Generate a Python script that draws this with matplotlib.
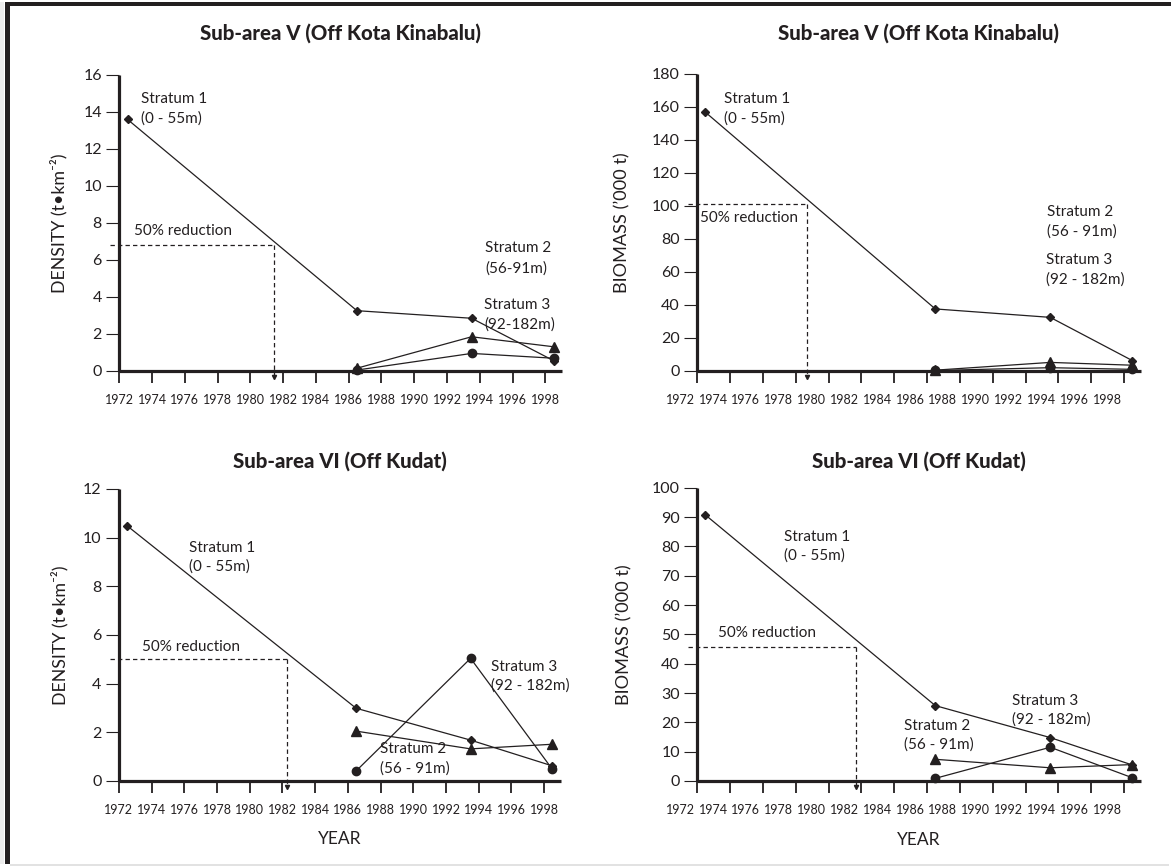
import matplotlib
matplotlib.use("Agg")
import matplotlib.pyplot as plt
import matplotlib.transforms as mtransforms
from matplotlib.patches import Rectangle

plt.rcParams['font.family'] = ['Lato', 'DejaVu Sans']

INK = '#231f20'

# survey years
YEARS_S1 = [1972.5, 1986.5, 1993.5, 1998.5]
YEARS_S23 = [1986.5, 1993.5, 1998.5]

# Sub-area V density (t/km2)
v_density_s1 = [13.6, 3.26, 2.85, 0.56]
v_density_s2 = [0.15, 1.85, 1.31]
v_density_s3 = [0.05, 0.95, 0.69]

# Sub-area V biomass ('000 t)
v_biomass_s1 = [156.8, 37.6, 32.5, 6.3]
v_biomass_s2 = [0.5, 5.2, 3.5]
v_biomass_s3 = [0.3, 2.0, 1.0]

# Sub-area VI density (t/km2)
vi_density_s1 = [10.49, 2.99, 1.68, 0.62]
vi_density_s2 = [2.05, 1.32, 1.51]
vi_density_s3 = [0.41, 5.04, 0.48]

# Sub-area VI biomass ('000 t)
vi_biomass_s1 = [90.7, 25.7, 14.8, 5.45]
vi_biomass_s2 = [7.4, 4.5, 5.6]
vi_biomass_s3 = [0.9, 11.5, 1.1]

# 50% reduction level and year it was reached
reduction_level = [6.8, 101, 5.01, 45.8]
reduction_year = [1981.44, 1978.67, 1982.27, 1981.7]

x_ticks = list(range(1972, 1999, 2))

titles = ['Sub-area V (Off Kota Kinabalu)', 'Sub-area V (Off Kota Kinabalu)',
          'Sub-area VI (Off Kudat)', 'Sub-area VI (Off Kudat)']
density_label = 'DENSITY (t•km⁻²)'
biomass_label = 'BIOMASS (’000 t)'

fig = plt.figure(figsize=(11.71, 8.67), dpi=100)

# figure frame
fig.add_artist(Rectangle((0.0, 0.0035), 0.0038, 0.9945, transform=fig.transFigure, color='#ececec', lw=0))
fig.add_artist(Rectangle((0.0043, 0.9934), 0.9957, 0.0046, transform=fig.transFigure, color=INK, lw=0))
fig.add_artist(Rectangle((0.0043, 0.0035), 0.0043, 0.9945, transform=fig.transFigure, color=INK, lw=0))
fig.add_artist(Rectangle((0.0086, 0.0012), 0.99, 0.0023, transform=fig.transFigure, color='#e2e2e2', lw=0))

panels = [
    dict(rect=[0.1019, 0.5721, 0.3778, 0.3414], ymax=16, ystep=2, ylabel=density_label, ylab_size=12.8,
         s1=v_density_s1, s2=v_density_s2, s3=v_density_s3, title_y=1.141, ylab_x=-0.118,
         year_label=False, shift=0,
         notes=[('Stratum 1', 1973.33, 14.7), ('(0 - 55m)', 1973.33, 13.66),
                ('50% reduction', 1972.92, 7.57),
                ('Stratum 2', 1994.33, 6.63), ('(56-91m)', 1994.33, 5.55),
                ('Stratum 3', 1994.28, 3.55), ('(92-182m)', 1994.28, 2.52)]),
    dict(rect=[0.5954, 0.5721, 0.3786, 0.3426], ymax=180, ystep=20, ylabel=biomass_label, ylab_size=13.1,
         s1=v_biomass_s1, s2=v_biomass_s2, s3=v_biomass_s3, title_y=1.138, ylab_x=-0.150,
         year_label=False, shift=-17,
         notes=[('Stratum 1', 1973.65, 164.8), ('(0 - 55m)', 1973.65, 153.1),
                ('50% reduction', 1972.16, 92.9),
                ('Stratum 2', 1993.33, 96.2), ('(56 - 91m)', 1993.33, 84.4),
                ('Stratum 3', 1993.26, 67.3), ('(92 - 182m)', 1993.26, 55.2)]),
    dict(rect=[0.1015, 0.0992, 0.3772, 0.3368], ymax=12, ystep=2, ylabel=density_label, ylab_size=12.8,
         s1=vi_density_s1, s2=vi_density_s2, s3=vi_density_s3, title_y=1.097, ylab_x=-0.114,
         year_label=True, shift=0,
         notes=[('Stratum 1', 1976.26, 9.56), ('(0 - 55m)', 1976.26, 8.81),
                ('50% reduction', 1973.44, 5.52),
                ('Stratum 3', 1994.74, 4.70), ('(92 - 182m)', 1994.74, 3.92),
                ('Stratum 2', 1987.98, 1.32), ('(56 - 91m)', 1987.98, 0.52)]),
    dict(rect=[0.5954, 0.0992, 0.3786, 0.3383], ymax=100, ystep=10, ylabel=biomass_label, ylab_size=13.1,
         s1=vi_biomass_s1, s2=vi_biomass_s2, s3=vi_biomass_s3, title_y=1.092, ylab_x=-0.146,
         year_label=True, shift=-17,
         notes=[('Stratum 1', 1977.29, 83.3), ('(0 - 55m)', 1977.29, 76.7),
                ('50% reduction', 1973.24, 50.3),
                ('Stratum 3', 1991.2, 27.3), ('(92 - 182m)', 1991.2, 20.8),
                ('Stratum 2', 1984.57, 18.75), ('(56 - 91m)', 1984.57, 12.3)]),
]

for i, p in enumerate(panels):
    ax = fig.add_axes(p['rect'])
    ymax = p['ymax']
    ax.set_xlim(1972, 1999)
    ax.set_ylim(0, ymax)

    for s in ['top', 'right']:
        ax.spines[s].set_visible(False)
    for s in ['left', 'bottom']:
        ax.spines[s].set_linewidth(2.3)
        ax.spines[s].set_color(INK)
        ax.spines[s].set_capstyle('butt')

    ax.set_xticks(x_ticks)
    ax.set_xticklabels([str(y) for y in x_ticks])
    ax.set_yticks(range(0, ymax + 1, p['ystep']))
    ax.tick_params(axis='x', direction='out', length=8.5, width=1.3, color=INK,
                   labelsize=9, labelcolor=INK, pad=8)
    ax.tick_params(axis='y', direction='out', length=9.5, width=0.8, color=INK,
                   labelsize=11.5, labelcolor=INK, pad=3)

    if p['shift']:
        offset = mtransforms.ScaledTranslation(p['shift'] / 100, 0, fig.dpi_scale_trans)
        for lbl in ax.get_xticklabels():
            lbl.set_transform(lbl.get_transform() + offset)

    ax.set_ylabel(p['ylabel'], fontsize=p['ylab_size'], color=INK)
    ax.yaxis.set_label_coords(p['ylab_x'], 0.5)

    ax.text(0.5, p['title_y'], titles[i], transform=ax.transAxes, ha='center', va='center',
            fontsize=14.7, fontweight='black', color=INK)
    if p['year_label']:
        ax.text(0.5, -0.2, 'YEAR', transform=ax.transAxes, ha='center', va='center',
                fontsize=12.5, color=INK)

    # survey series
    ax.plot(YEARS_S1, p['s1'], color=INK, lw=0.9, marker='D', ms=4.5, clip_on=False, zorder=4)
    ax.plot(YEARS_S23, p['s2'], color=INK, lw=0.9, marker='^', ms=6.5, clip_on=False, zorder=4)
    ax.plot(YEARS_S23, p['s3'], color=INK, lw=0.9, marker='o', ms=6, clip_on=False, zorder=4)

    # 50% reduction guide
    lvl = reduction_level[i]
    yr = reduction_year[i]
    ax.plot([1971.45, yr], [lvl, lvl], color=INK, lw=0.9, dashes=(3.5, 2.5), clip_on=False)
    ax.plot([yr, yr], [lvl, -0.02 * ymax], color=INK, lw=0.9, dashes=(3.5, 2.5), clip_on=False)
    ax.plot([yr], [-0.02 * ymax], color=INK, marker='v', ms=3, clip_on=False, zorder=5)

    for txt, tx, ty in p['notes']:
        ax.text(tx, ty, txt, ha='left', va='center', fontsize=11, color=INK)

fig.savefig('out.png', dpi=100, facecolor='white')
